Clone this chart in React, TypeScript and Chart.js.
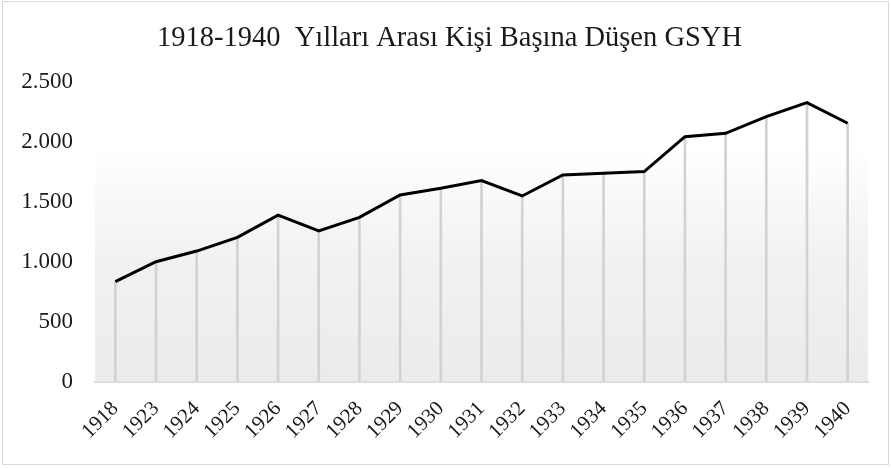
import React, { useEffect, useRef } from "react";
import { Chart, registerables } from "chart.js";

Chart.register(...registerables);

const years = ["1918", "1923", "1924", "1925", "1926", "1927", "1928", "1929", "1930", "1931", "1932", "1933", "1934", "1935", "1936", "1937", "1938", "1939", "1940"];
const gdpPerCapita = [832, 998, 1087, 1201, 1387, 1254, 1368, 1554, 1610, 1674, 1546, 1721, 1735, 1749, 2040, 2068, 2207, 2324, 2152];
const titleText = "1918-1940  Yılları Arası Kişi Başına Düşen GSYH";

const FONT = "'Liberation Serif', 'Times New Roman', serif";

const plotBackground = {
  id: "plotBackground",
  beforeDatasetsDraw(chart: any) {
    const { ctx, chartArea } = chart;
    const top = chartArea.top + chartArea.height * 0.218;
    const g = ctx.createLinearGradient(0, top, 0, chartArea.bottom);
    g.addColorStop(0, "#ffffff");
    g.addColorStop(0.45, "#f2f2f2");
    g.addColorStop(1, "#ebebeb");
    ctx.save();
    ctx.fillStyle = g;
    ctx.fillRect(chartArea.left, top, chartArea.right - chartArea.left, chartArea.bottom - top);
    ctx.restore();
  },
};

const titlePlugin = {
  id: "centeredTitle",
  afterDraw(chart: any) {
    const { ctx, width } = chart;
    ctx.save();
    ctx.font = `28.5px ${FONT}`;
    ctx.fillStyle = "#1a1a1a";
    ctx.textAlign = "center";
    ctx.textBaseline = "alphabetic";
    ctx.fillText(titleText, width / 2 + 4, 46);
    ctx.restore();
  },
};

export default function App() {
  const ref = useRef<HTMLCanvasElement>(null);
  useEffect(() => {
    if (!ref.current) return;
    const chart = new Chart(ref.current, {
      type: "bar",
      data: {
        labels: years,
        datasets: [
          {
            type: "line",
            data: gdpPerCapita,
            borderColor: "#000000",
            borderWidth: 3,
            pointRadius: 0,
            tension: 0,
            fill: false,
            order: 0,
          } as any,
          {
            type: "bar",
            data: gdpPerCapita,
            backgroundColor: "#d2d2d2",
            barThickness: 2,
            order: 1,
          },
        ],
      },
      plugins: [plotBackground, titlePlugin],
      options: {
        animation: false,
        responsive: false,
        maintainAspectRatio: false,
        layout: { padding: { left: 0, right: 23, top: 81.5, bottom: 0 } },
        plugins: {
          legend: { display: false },
          tooltip: { enabled: false },
          title: { display: false },
        },
        scales: {
          x: {
            offset: true,
            grid: { display: false, drawTicks: false },
            border: { display: true, color: "#d9d9d9", width: 2 },
            ticks: {
              color: "#1a1a1a",
              font: { family: FONT, size: 21 },
              minRotation: 45,
              maxRotation: 45,
              padding: 15,
              autoSkip: false,
            },
            afterFit(scale: any) {
              scale.height = 86.5;
            },
          },
          y: {
            min: 0,
            max: 2500,
            grid: { display: false, drawTicks: false },
            border: { display: false },
            ticks: {
              stepSize: 500,
              color: "#1a1a1a",
              font: { family: FONT, size: 23 },
              padding: 22,
              callback: (v: any) => Number(v).toLocaleString("de-DE"),
            },
            afterFit(scale: any) {
              scale.width = 95;
            },
          },
        },
      },
    });
    return () => chart.destroy();
  }, []);
  return (
    <div style={{ position: "fixed", left: 0, top: 0, width: 891, height: 468, background: "#ffffff" }}>
      <canvas ref={ref} width={891} height={468} style={{ position: "absolute", left: 0, top: 0 }} />
      <div style={{ position: "absolute", left: 2, top: 1, width: 885, height: 462, border: "1px solid #d9d9d9", pointerEvents: "none" }} />
    </div>
  );
}
